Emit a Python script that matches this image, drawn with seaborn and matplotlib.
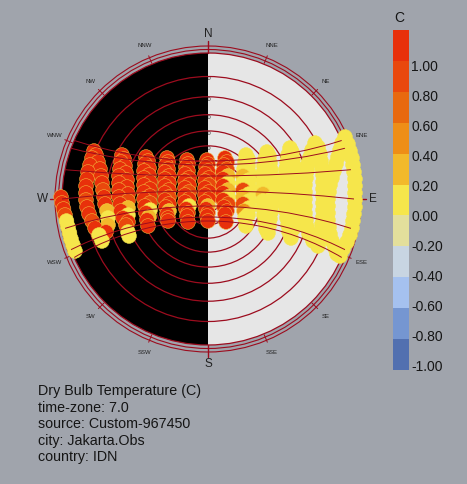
import numpy as np
import matplotlib
matplotlib.use("Agg")
import matplotlib.pyplot as plt
import seaborn as sns
import pandas as pd
from matplotlib.patches import Wedge, Circle

sns.set_theme(style="white")
plt.rcParams['font.family'] = ['Liberation Sans', 'DejaVu Sans']

# ---------------- data ----------------
legend_title = "C"
legend_values = [1.00, 0.80, 0.60, 0.40, 0.20, 0.00, -0.20, -0.40, -0.60, -0.80, -1.00]
legend_colors = ['#e8300b', '#e9480d', '#e8690f', '#ee8e17', '#f2b92b', '#f6e64b',
                 '#e3df9c', '#c8d5e2', '#a5c1ef', '#7596d1', '#5270b0']

info_lines = ["Dry Bulb Temperature (C)", "time-zone: 7.0", "source: Custom-967450",
              "city: Jakarta.Obs", "country: IDN"]

compass_labels = ['N', 'NNE', 'NE', 'ENE', 'E', 'ESE', 'SE', 'SSE',
                  'S', 'SSW', 'SW', 'WSW', 'W', 'WNW', 'NW', 'NNW']
compass_major = ['N', 'E', 'S', 'W']

altitude_circles = [0, 10, 20, 30, 40, 50, 60, 70, 80]

# daily sun paths: horizon crossing angle (deg north of E/W) and noon position (chart units)
path_edge_angle = [23.6, 20.3, 11.6, 0.0, -11.6, -20.3, -23.6]
path_noon_y = [38, 34, 23, 8, -7, -18, -22]

# hourly sun positions (x, y in chart units, horizon radius 146) and value
hour_18 = [(-147, 2, 1.0), (-146, -4, 1.0), (-144.5, -10, 1.0), (-143, -16, 0.8), (-141.5, -22, 0.0),
           (-140, -28, 0.0), (-138.5, -34, 0.0), (-137, -40, 0.0), (-135, -46, 0.0), (-133, -52, 0.0)]
hour_17 = [(-114, 48, 1.0), (-116, 41, 1.0), (-118, 34, 1.0), (-120, 27, 1.0), (-121, 20, 1.0),
           (-122, 13, 1.0), (-122, 6, 1.0), (-122, -1, 0.8), (-121, -8, 1.0), (-119, -15, 1.0),
           (-116, -22, 0.8), (-113, -29, 1.0), (-109, -36, 0.0), (-106, -42, 0.0),
           (-112, 44, 1.0), (-110, 37, 1.0), (-108, 30, 1.0), (-107, 23, 1.0), (-106, 16, 1.0),
           (-105, 9, 0.8), (-104, 2, 1.0), (-103, -5, 1.0), (-101, -12, 0.2), (-100, -19, 0.0),
           (-100, -26, 0.2), (-102, -33, 1.0)]
hour_16 = [(-86, 44, 1.0), (-87, 37, 1.0), (-88, 30, 1.0), (-89, 23, 1.0), (-89, 16, 1.0),
           (-89, 9, 1.0), (-89, 2, 1.0), (-88, -5, 1.0), (-87, -12, 1.0), (-85, -19, 1.0),
           (-82, -26, 0.8), (-80, -33, 0.0), (-79, -37, 0.0),
           (-84, 40, 1.0), (-83, 33, 1.0), (-82, 26, 1.0), (-81, 19, 1.0), (-81, 12, 1.0),
           (-80, 5, 1.0), (-80, -2, 0.8), (-80, -9, 0.2), (-80, -16, 0.0), (-80, -23, 1.0)]
hour_15 = [(-62, 42, 1.0), (-63, 35, 1.0), (-64, 28, 1.0), (-64, 21, 1.0), (-64, 14, 1.0),
           (-64, 7, 1.0), (-64, 0, 1.0), (-63, -7, 1.0), (-62, -14, 1.0), (-61, -21, 1.0),
           (-60, -27, 1.0),
           (-60, 38, 1.0), (-59, 31, 1.0), (-59, 24, 1.0), (-58, 17, 1.0), (-58, 10, 1.0),
           (-58, 3, 1.0), (-58, -4, 0.8), (-58, -11, 0.0), (-59, -18, 0.2)]
hour_14 = [(-41, 41, 1.0), (-42, 34, 1.0), (-43, 27, 1.0), (-43, 20, 1.0), (-43, 13, 1.0),
           (-43, 6, 1.0), (-43, -1, 1.0), (-42, -8, 1.0), (-41, -15, 1.0), (-40, -22, 1.0),
           (-40, 37, 1.0), (-40, 30, 1.0), (-39, 23, 1.0), (-39, 16, 1.0), (-39, 9, 1.0),
           (-39, 2, 0.8), (-39, -5, 1.0), (-39, -12, 0.2), (-40, -19, 1.0)]
hour_13 = [(-21, 39, 1.0), (-22, 32, 1.0), (-23, 25, 1.0), (-23, 18, 1.0), (-23, 11, 1.0),
           (-23, 4, 1.0), (-23, -3, 1.0), (-22, -10, 1.0), (-21, -17, 1.0), (-20, -23, 1.0),
           (-20, 35, 1.0), (-20, 28, 1.0), (-19, 21, 1.0), (-19, 14, 1.0), (-19, 7, 0.8),
           (-19, 0, 1.0), (-19, -7, 0.0), (-20, -14, 1.0)]
hour_12 = [(-1, 39, 1.0), (-2, 32, 1.0), (-3, 25, 1.0), (-3, 18, 1.0), (-3, 11, 1.0),
           (-3, 4, 1.0), (-3, -3, 1.0), (-2, -10, 1.0), (-1, -17, 1.0), (0, -22, 1.0),
           (0, 35, 1.0), (0, 28, 1.0), (1, 21, 1.0), (1, 14, 0.8), (1, 7, 1.0),
           (1, 0, 1.0), (0, -7, 0.2), (0, -14, 1.0)]
hour_11 = [(17, 41, 1.0), (16, 34, 1.0), (15, 27, 1.0), (15, 20, 1.0), (15, 13, 1.0),
           (15, 6, 1.0), (15, -1, 1.0), (16, -8, 1.0), (17, -15, 1.0), (18, -23, 1.0),
           (19, 37, 1.0), (19, 30, 0.8), (20, 23, 0.2), (20, 16, 0.0), (20, 9, 0.2),
           (20, 2, 0.0), (20, -5, 0.8), (19, -12, 1.0)]
hour_10 = [(38, 44, 0.0), (37, 37, 0.0), (36, 30, 0.0), (35, 23, 0.2), (35, 16, 0.0),
           (35, 9, 0.8), (35, 2, 0.2), (35, -5, 0.8), (36, -12, 0.4), (37, -19, 0.0),
           (38, -27, 0.0),
           (40, 40, 0.0), (40, 33, 0.0), (41, 26, 0.0), (41, 19, 0.0), (41, 12, 0.0),
           (41, 5, 0.0), (41, -2, 0.0), (41, -9, 0.0), (40, -16, 0.0)]
hour_09 = [(59, 47, 0.0), (57, 40, 0.0), (56, 33, 0.0), (55, 26, 0.0), (55, 19, 0.0),
           (55, 12, 0.0), (55, 5, 0.2), (55, -2, 0.0), (55, -9, 0.0), (56, -16, 0.0),
           (57, -23, 0.0), (58, -30, 0.0), (60, -34, 0.0),
           (61, 43, 0.0), (62, 36, 0.0), (63, 29, 0.0), (63, 22, 0.0), (64, 15, 0.0),
           (64, 8, 0.0), (64, 1, 0.0), (64, -6, 0.0), (63, -13, 0.0), (62, -20, 0.0),
           (61, -27, 0.0)]
hour_08 = [(82, 51, 0.0), (80, 44, 0.0), (79, 37, 0.0), (78, 30, 0.0), (77, 23, 0.0),
           (77, 16, 0.0), (77, 9, 0.0), (77, 2, 0.0), (77, -5, 0.0), (78, -12, 0.0),
           (79, -19, 0.0), (80, -26, 0.0), (81, -33, 0.0), (83, -39, 0.0),
           (84, 47, 0.0), (85, 40, 0.0), (86, 33, 0.0), (87, 26, 0.0), (87, 19, 0.0),
           (87, 12, 0.0), (87, 5, 0.0), (87, -2, 0.0), (87, -9, 0.0), (87, -16, 0.0),
           (86, -23, 0.0), (85, -30, 0.0)]
hour_07 = [(107, 56, 0.0), (104, 49, 0.0), (102, 42, 0.0), (100, 35, 0.0), (99, 28, 0.0),
           (98, 21, 0.0), (97, 14, 0.0), (97, 7, 0.0), (97, 0, 0.0), (97, -7, 0.0),
           (97, -14, 0.0), (98, -21, 0.0), (99, -28, 0.0), (101, -35, 0.0), (105, -42, 0.0),
           (110, -47, 0.0),
           (110, 52, 0.0), (112, 45, 0.0), (113, 38, 0.0), (114, 31, 0.0), (115, 24, 0.0),
           (115, 17, 0.0), (115, 10, 0.0), (115, 3, 0.0), (115, -4, 0.0), (115, -11, 0.0),
           (115, -18, 0.0), (114, -25, 0.0), (113, -32, 0.0), (112, -39, 0.0)]
hour_06 = [(137, 62, 0.0), (140, 55, 0.0), (142, 48, 0.0), (144, 41, 0.0), (145, 34, 0.0),
           (146, 27, 0.0), (147, 20, 0.0), (147, 13, 0.0), (147, 6, 0.0), (147, -1, 0.0),
           (147, -8, 0.0), (146, -15, 0.0), (145, -22, 0.0), (144, -29, 0.0), (142, -36, 0.0),
           (139, -43, 0.0), (135, -50, 0.0), (132, -57, 0.0),
           (134, 56, 0.0), (132, 49, 0.0), (130, 42, 0.0), (128, 35, 0.0), (126, 28, 0.0),
           (124, 21, 0.0), (122, 14, 0.0), (121, 7, 0.0), (120, 0, 0.0), (120, -7, 0.0),
           (120, -14, 0.0), (120, -21, 0.0), (121, -28, 0.0), (122, -35, 0.0), (124, -42, 0.0),
           (127, -49, 0.0), (129, -55, 0.0)]

# ---------------- style ----------------
BG = '#a0a4ac'
LINE = '#9c0c1e'
LIGHT = '#e6e6e6'
TXT = '#151515'
R = 146.0

fig = plt.figure(figsize=(4.67, 4.84), dpi=100, facecolor=BG)
ax = fig.add_axes([0, 0, 1, 1])
ax.set_facecolor(BG)

# halves
ax.add_patch(Wedge((0, 0), R, -90, 90, facecolor=LIGHT, edgecolor='none', zorder=1))
ax.add_patch(Wedge((0, 0), R, 90, 270, facecolor='black', edgecolor='none', zorder=2))

# altitude circles (stereographic)
for alt in altitude_circles:
    r = R * np.tan(np.radians((90 - alt) / 2.0))
    ax.add_patch(Circle((0, 0), r, fill=False, ec=LINE, lw=0.9, zorder=3))
    if alt > 0:
        ax.text(3.5, r - 2.5, str(alt), ha='right', va='center', fontsize=4.3,
                color='#333333', zorder=1.5)

# outer rings
for rr in [R + 3.5, R + 7]:
    ax.add_patch(Circle((0, 0), rr, fill=False, ec=LINE, lw=0.8, zorder=3))

# compass ticks and labels
for i, lab in enumerate(compass_labels):
    b = np.radians(22.5 * i)
    major = lab in compass_major
    r0, r1 = (R, 158) if major else (R + 1, 155)
    ax.plot([r0 * np.sin(b), r1 * np.sin(b)], [r0 * np.cos(b), r1 * np.cos(b)],
            color=LINE, lw=1.0 if major else 0.7, zorder=3)
    rt = 165 if major else 166
    ax.text(rt * np.sin(b), rt * np.cos(b), lab, ha='center', va='center',
            fontsize=8.5 if major else 4.3, color='#222222', zorder=6)

# sun positions
cols = []
for h, pts in zip(range(18, 5, -1), [hour_18, hour_17, hour_16, hour_15, hour_14, hour_13,
                                        hour_12, hour_11, hour_10, hour_09, hour_08, hour_07,
                                        hour_06]):
    for x, y, v in pts:
        cols.append((x, y, v, h))
df = pd.DataFrame(cols, columns=['x', 'y', 'val', 'hour'])
df = df.sort_values('y', ascending=False, kind='stable').reset_index(drop=True)
palette = {v: c for v, c in zip(legend_values, legend_colors)}
edge_map = {1.0: '#f2b53a', 0.8: '#f2b53a', 0.4: '#f3d24a', 0.2: '#f3dc4a', 0.0: '#f6e64b'}
edges = [edge_map[v] for v in df['val']]
sns.scatterplot(data=df, x='x', y='y', hue='val', palette=palette, s=112,
                edgecolor=edges, linewidth=0.4, legend=False, ax=ax, zorder=4)

# daily sun paths (circles through horizon points and noon point)
clip = Circle((0, 0), R, transform=ax.transData)
for ang, ny in zip(path_edge_angle, path_noon_y):
    ex = R * np.cos(np.radians(ang))
    ey = R * np.sin(np.radians(ang))
    c = (ex ** 2 + ey ** 2 - ny ** 2) / (2 * (ey - ny))
    rad = abs(ny - c)
    p = Circle((0, c), rad, fill=False, ec=LINE, lw=0.7, zorder=5)
    ax.add_patch(p)
    p.set_clip_path(clip)

ax.set_xlim(-208, 259)
ax.set_ylim(-285, 199)
ax.axis('off')

# legend bar
cax = fig.add_axes([393 / 467, 1 - 370 / 484, 16 / 467, 340 / 484])
n = len(legend_values)
for k, col in enumerate(legend_colors):
    cax.bar(0, 1, bottom=n - 1 - k, width=1, color=col, edgecolor='none')
cax.set_xlim(-0.5, 0.5)
cax.set_ylim(0, n)
cax.set_xticks([])
cax.yaxis.tick_right()
cax.set_yticks(np.linspace(9.84, 0.16, n))
cax.set_yticklabels([f"{v:.2f}" for v in legend_values])
cax.tick_params(axis='y', length=0, pad=1.5, labelsize=10, labelcolor=TXT)
for s in cax.spines.values():
    s.set_visible(False)
fig.text(399 / 467, 1 - 18 / 484, legend_title, ha='center', va='center',
         fontsize=10, color=TXT)

# info text
for k, line in enumerate(info_lines):
    fig.text(38 / 467, 1 - (391 + 16.5 * k) / 484, line, ha='left', va='center',
             fontsize=10.3, color=TXT)

fig.savefig("out.png", dpi=100, facecolor=BG)
